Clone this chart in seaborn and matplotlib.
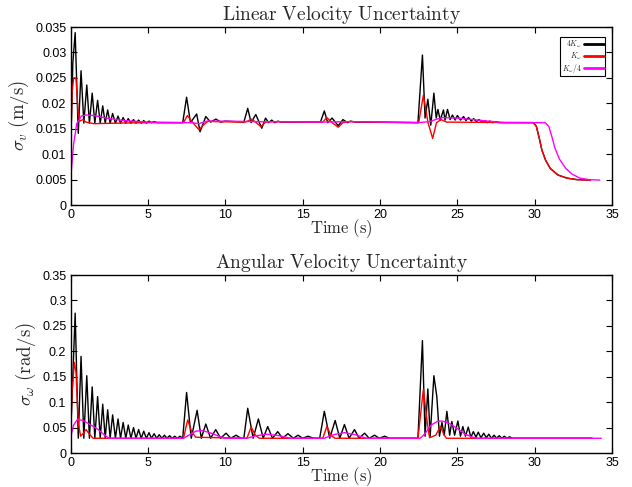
import numpy as np
import pandas as pd
import matplotlib
matplotlib.use("Agg")
import matplotlib.pyplot as plt
import seaborn as sns
from matplotlib.ticker import FuncFormatter
from matplotlib.lines import Line2D

# ---------------- data ----------------
series_labels = [r'$4K_\omega$', r'$K_\omega$', r'$K_\omega/4$']
series_colors = ['#000000', '#ff0000', '#ff00ff']

# Linear velocity uncertainty, 4K_w (black)
lin_4k_t = [0, 0.15, 0.3, 0.5, 0.68, 0.86, 1.05, 1.22, 1.4, 1.57, 1.75, 1.92, 2.08, 2.24, 2.4, 2.56,
            2.72, 2.9, 3.07, 3.23, 3.4, 3.57, 3.73, 3.9, 4.07, 4.23, 4.4, 4.57, 4.73, 4.9, 5.07, 5.23, 5.4,
            5.6, 7.25, 7.5, 7.75, 8.15, 8.37, 8.74, 9.05, 9.4, 9.7, 10.0, 11.2, 11.45, 11.67, 11.97, 12.36,
            12.6, 12.8, 13.0, 13.2, 13.4, 13.6, 16.15, 16.4, 16.62, 16.9, 17.3, 17.6, 17.9, 18.1, 18.4,
            22.45, 22.74, 22.91, 23.09, 23.28, 23.48, 23.63, 23.74, 23.89, 24.1, 24.2, 24.36, 24.53, 24.68,
            24.85, 25.0, 25.2, 25.4, 25.55, 25.72, 25.9, 26.05, 26.22, 26.4, 26.57, 26.75, 26.92, 27.1,
            27.3, 27.5, 27.7, 29.9, 30.1, 30.3, 30.46, 30.7, 31.0, 31.5, 32.07, 32.7, 33.6]
lin_4k_v = [0.010, 0.028, 0.0339, 0.0141, 0.0264, 0.0161, 0.0236, 0.0161, 0.022, 0.0161, 0.0206, 0.0161,
            0.0195, 0.0161, 0.0187, 0.0161, 0.018, 0.0161, 0.0175, 0.0161, 0.0172, 0.0161, 0.017, 0.0161,
            0.0168, 0.0161, 0.0167, 0.0161, 0.0166, 0.0161, 0.0165, 0.0162, 0.0164, 0.0162, 0.0162, 0.0212,
            0.0162, 0.0179, 0.0144, 0.0174, 0.0163, 0.0169, 0.0163, 0.0165, 0.0163, 0.019, 0.0162, 0.0178,
            0.0151, 0.0171, 0.0162, 0.0167, 0.0162, 0.0165, 0.0163, 0.0163, 0.0185, 0.0162, 0.0171, 0.0156,
            0.0168, 0.0162, 0.0165, 0.0163, 0.0162, 0.0295, 0.0171, 0.0208, 0.0157, 0.022, 0.0171, 0.0188,
            0.0167, 0.0187, 0.0167, 0.0188, 0.0168, 0.0177, 0.0167, 0.0176, 0.0167, 0.0174, 0.0166, 0.0172,
            0.0165, 0.017, 0.0164, 0.0168, 0.0163, 0.0166, 0.0162, 0.0165, 0.0162, 0.0164, 0.0162, 0.0162,
            0.0155, 0.013, 0.0108, 0.0088, 0.0072, 0.0059, 0.0053, 0.005, 0.0049]

# Linear velocity uncertainty, K_w (red)
lin_k_t = [0, 0.1, 0.2, 0.35, 0.5, 0.6, 0.8, 1.0, 1.5, 3.0, 5.0, 7.3, 7.55, 7.9, 8.3, 8.6, 8.9, 9.3,
           11.3, 11.7, 12.0, 12.3, 12.6, 13.0, 16.3, 16.56, 16.9, 17.3, 17.6, 18.0, 22.5, 22.8, 23.1,
           23.4, 23.65, 23.95, 24.3, 29.9, 30.1, 30.3, 30.46, 30.7, 31.0, 31.5, 32.07, 32.7, 33.6]
lin_k_v = [0.010, 0.022, 0.025, 0.025, 0.018, 0.0165, 0.0168, 0.0163, 0.016, 0.0161, 0.0162, 0.0162,
           0.0176, 0.0162, 0.0148, 0.0158, 0.0165, 0.0164, 0.0163, 0.0169, 0.0162, 0.0154, 0.0163, 0.0164,
           0.0163, 0.0172, 0.0162, 0.0153, 0.0162, 0.0164, 0.0162, 0.0216, 0.0162, 0.0131, 0.0162, 0.0168,
           0.0163, 0.0162, 0.0155, 0.013, 0.0108, 0.0088, 0.0072, 0.0059, 0.0053, 0.005, 0.0049]

# Linear velocity uncertainty, K_w/4 (magenta)
lin_k4_t = [0, 0.2, 0.4, 0.7, 1.0, 1.5, 2.5, 3.5, 5.0, 7.3, 7.8, 8.3, 8.8, 10.0, 12.0, 16.0, 18.0, 22.5,
            23.2, 24.0, 25.0, 26.0, 27.0, 28.0, 30.67, 30.9, 31.1, 31.3, 31.6, 32.0, 32.4, 32.9, 33.5, 34.2]
lin_k4_v = [0.005, 0.012, 0.016, 0.0175, 0.0177, 0.0176, 0.017, 0.0166, 0.0163, 0.0162, 0.0162, 0.016,
            0.0165, 0.0165, 0.0164, 0.0163, 0.0164, 0.0162, 0.0164, 0.0172, 0.0171, 0.0168, 0.0165, 0.0162,
            0.0162, 0.0155, 0.0135, 0.0112, 0.009, 0.0072, 0.0061, 0.0053, 0.005, 0.0049]

# Angular velocity uncertainty, 4K_w (black)
ang_4k_t = [0, 0.3, 0.5, 0.68, 0.86, 1.05, 1.22, 1.4, 1.57, 1.75, 1.92, 2.08, 2.24, 2.4, 2.56, 2.72, 2.9,
            3.07, 3.23, 3.4, 3.57, 3.73, 3.9, 4.07, 4.23, 4.4, 4.57, 4.73, 4.9, 5.07, 5.23, 5.4, 5.57, 5.73,
            5.9, 6.07, 6.23, 6.4, 6.57, 6.73, 6.9, 7.07, 7.25, 7.5, 7.8, 8.18, 8.45, 8.74, 9.05, 9.38, 9.7,
            10.05, 10.35, 10.7, 11.0, 11.2, 11.45, 11.8, 12.14, 12.45, 12.74, 13.05, 13.39, 13.7, 14.05,
            14.4, 14.7, 15.0, 15.35, 15.7, 16.1, 16.4, 16.75, 17.1, 17.4, 17.7, 18.0, 18.35, 18.65, 19.0,
            19.3, 19.65, 19.95, 20.3, 20.6, 22.45, 22.74, 22.91, 23.09, 23.24, 23.48, 23.67, 23.84, 24.0,
            24.15, 24.32, 24.5, 24.64, 24.82, 25.03, 25.2, 25.35, 25.52, 25.7, 25.87, 26.03, 26.2, 26.35,
            26.52, 26.7, 26.87, 27.03, 27.2, 27.37, 27.53, 27.7, 27.87, 28.03, 28.2, 28.37, 28.55, 33.7]
ang_4k_v = [0.03, 0.275, 0.029, 0.19, 0.029, 0.152, 0.029, 0.13, 0.029, 0.111, 0.029, 0.096, 0.029, 0.085,
            0.029, 0.075, 0.029, 0.067, 0.029, 0.06, 0.029, 0.055, 0.029, 0.05, 0.029, 0.046, 0.029, 0.043,
            0.029, 0.04, 0.029, 0.038, 0.029, 0.036, 0.029, 0.035, 0.029, 0.034, 0.029, 0.033, 0.029, 0.033,
            0.029, 0.119, 0.029, 0.084, 0.029, 0.057, 0.029, 0.046, 0.029, 0.039, 0.029, 0.035, 0.029, 0.029,
            0.088, 0.029, 0.067, 0.029, 0.052, 0.029, 0.042, 0.029, 0.038, 0.029, 0.035, 0.029, 0.033, 0.029,
            0.029, 0.082, 0.029, 0.064, 0.029, 0.056, 0.029, 0.046, 0.029, 0.039, 0.029, 0.035, 0.029, 0.033,
            0.029, 0.029, 0.221, 0.033, 0.126, 0.033, 0.152, 0.111, 0.033, 0.06, 0.035, 0.082, 0.035, 0.062,
            0.035, 0.063, 0.033, 0.052, 0.033, 0.051, 0.031, 0.042, 0.031, 0.041, 0.03, 0.039, 0.03, 0.037,
            0.029, 0.035, 0.029, 0.034, 0.029, 0.033, 0.029, 0.032, 0.029, 0.029]

# Angular velocity uncertainty, K_w (red)
ang_k_t = [0, 0.1, 0.25, 0.35, 0.5, 0.65, 0.8, 1.0, 1.2, 1.45, 7.3, 7.57, 7.85, 8.1, 11.4, 11.67, 11.95,
           12.2, 16.3, 16.56, 16.85, 17.1, 22.45, 22.8, 23.05, 23.2, 23.6, 23.9, 24.15, 24.3, 33.7]
ang_k_v = [0.03, 0.12, 0.178, 0.16, 0.06, 0.033, 0.038, 0.046, 0.038, 0.029, 0.029, 0.065, 0.04, 0.031,
           0.029, 0.051, 0.035, 0.029, 0.029, 0.052, 0.034, 0.029, 0.029, 0.125, 0.06, 0.03, 0.035, 0.052,
           0.035, 0.029, 0.029]

# Angular velocity uncertainty, K_w/4 (magenta)
ang_k4_t = [0, 0.2, 0.45, 0.8, 1.26, 1.8, 2.2, 2.5, 7.3, 7.7, 8.1, 8.5, 9.0, 9.5, 10.0, 11.4, 12.0, 12.7,
            13.5, 14.2, 16.4, 17.0, 17.7, 18.4, 19.1, 22.6, 22.9, 23.3, 23.7, 24.0, 24.5, 25.0, 25.5, 26.0,
            26.3, 34.3]
ang_k4_v = [0.03, 0.055, 0.066, 0.064, 0.056, 0.046, 0.035, 0.029, 0.029, 0.036, 0.043, 0.044, 0.04, 0.034,
            0.029, 0.029, 0.034, 0.037, 0.034, 0.029, 0.029, 0.036, 0.04, 0.036, 0.029, 0.029, 0.038, 0.055,
            0.062, 0.063, 0.058, 0.048, 0.037, 0.031, 0.029, 0.029]

x_ticks = [0, 5, 10, 15, 20, 25, 30, 35]
lin_yticks = [0, 0.005, 0.01, 0.015, 0.02, 0.025, 0.03, 0.035]
ang_yticks = [0, 0.05, 0.1, 0.15, 0.2, 0.25, 0.3, 0.35]


def make_df(ts, vs):
    frames = []
    for lab, t, v in zip(series_labels, ts, vs):
        frames.append(pd.DataFrame({'t': t, 'v': v, 'series': lab}))
    return pd.concat(frames, ignore_index=True)


lin_df = make_df([lin_4k_t, lin_k_t, lin_k4_t], [lin_4k_v, lin_k_v, lin_k4_v])
ang_df = make_df([ang_4k_t, ang_k_t, ang_k4_t], [ang_4k_v, ang_k_v, ang_k4_v])

# ---------------- styling ----------------
sns.set_style("ticks")
plt.rcParams['font.family'] = ['Liberation Sans', 'DejaVu Sans']
plt.rcParams['mathtext.fontset'] = 'cm'

fig = plt.figure(figsize=(6.32, 4.87), dpi=100)
ax1 = fig.add_axes([0.1116, 0.579, 0.857, 0.3655])
ax2 = fig.add_axes([0.1116, 0.0698, 0.857, 0.3655])

palette = dict(zip(series_labels, series_colors))


def fmt(v, pos):
    s = ('%.3f' % v).rstrip('0').rstrip('.')
    return s if s else '0'


for ax, df, yt, title, ylabel in [
        (ax1, lin_df, lin_yticks, r'$\mathrm{Linear\ Velocity\ Uncertainty}$', r'$\sigma_v\ \mathrm{(m/s)}$'),
        (ax2, ang_df, ang_yticks, r'$\mathrm{Angular\ Velocity\ Uncertainty}$', r'$\sigma_\omega\ \mathrm{(rad/s)}$')]:
    sns.lineplot(data=df, x='t', y='v', hue='series', hue_order=series_labels, palette=palette,
                 estimator=None, sort=False, linewidth=1.0, ax=ax, legend=False)
    ax.set_xlim(0, 35)
    ax.set_ylim(yt[0], yt[-1])
    ax.set_xticks(x_ticks)
    ax.set_yticks(yt)
    ax.yaxis.set_major_formatter(FuncFormatter(fmt))
    ax.tick_params(direction='in', top=True, right=True, length=4, width=0.8, labelsize=9,
                   colors='black', pad=3)
    for sp in ax.spines.values():
        sp.set_visible(True)
        sp.set_linewidth(1.0)
        sp.set_color('black')
    ax.set_title(title, fontsize=14, pad=5)
    ax.set_xlabel(r'$\mathrm{Time\ (s)}$', fontsize=12, labelpad=-3)
    ax.set_ylabel(ylabel, fontsize=13.5, labelpad=3)

handles = [Line2D([0], [0], color=c, lw=2) for c in series_colors]
leg = ax1.legend(handles, series_labels, loc='upper right', bbox_to_anchor=(0.99, 0.95),
                 markerfirst=False, fontsize=5.5, frameon=True, fancybox=False,
                 edgecolor='black', framealpha=1, handlelength=2.6, handletextpad=0.3,
                 borderpad=0.2, labelspacing=0.0, borderaxespad=0.2)
leg.get_frame().set_linewidth(0.8)

fig.savefig('out.png', dpi=100, facecolor='white')
